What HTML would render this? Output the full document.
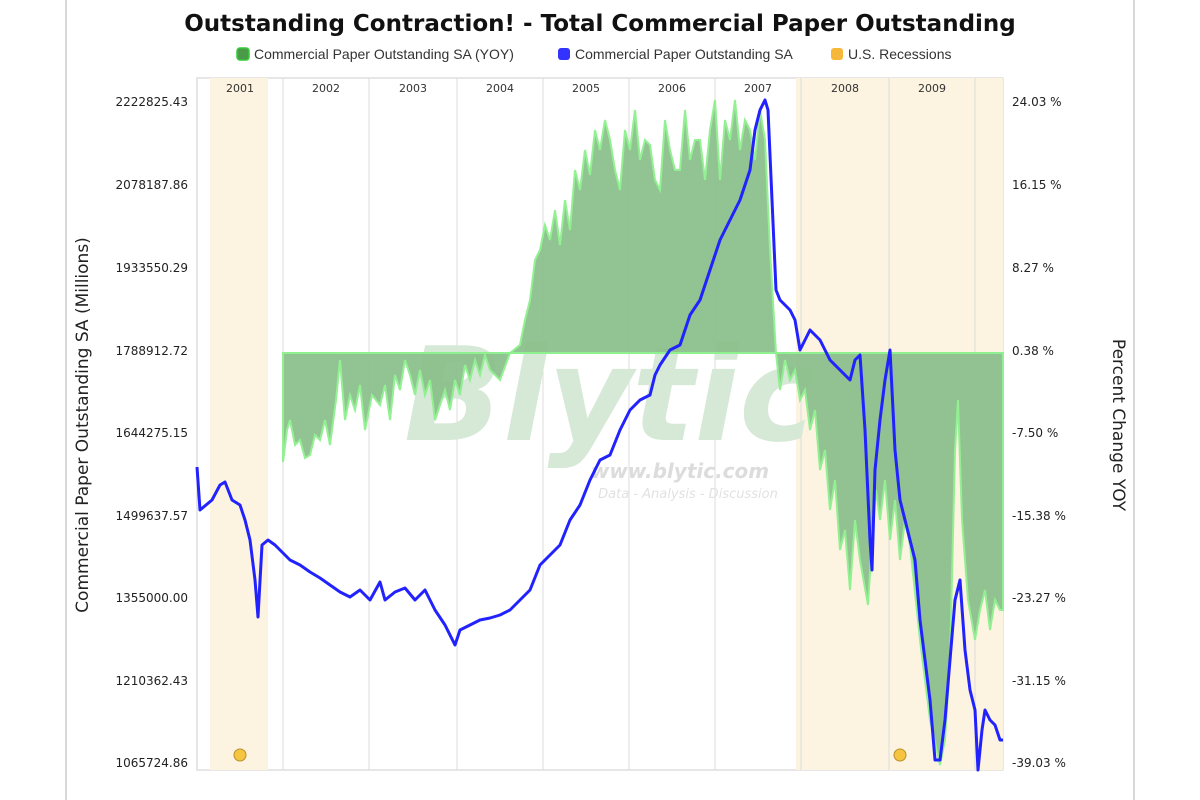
<!DOCTYPE html>
<html><head><meta charset="utf-8"><style>
html,body{margin:0;padding:0;background:#fff;width:1200px;height:800px;overflow:hidden}
svg{display:block}
text{font-family:"DejaVu Sans","Liberation Sans",sans-serif}
</style></head><body>
<svg width="1200" height="800" viewBox="0 0 1200 800">
<rect x="66" y="-2" width="1068" height="810" fill="#fff" stroke="#ccc" stroke-width="1.5"/>
<text x="600" y="31" text-anchor="middle" font-size="23" font-weight="bold" fill="#111">Outstanding Contraction! - Total Commercial Paper Outstanding</text>
<g font-size="13" fill="#333" style="font-family:'Liberation Sans',sans-serif">
<rect x="237" y="48" width="12" height="12" rx="3" fill="#4a9a4a" stroke="#3c3" stroke-width="1.5"/>
<text x="254" y="59" style="font-family:'Liberation Sans',sans-serif" font-size="14">Commercial Paper Outstanding SA (YOY)</text>
<rect x="558" y="48" width="12" height="12" rx="3" fill="#33f"/>
<text x="575" y="59" style="font-family:'Liberation Sans',sans-serif" font-size="14">Commercial Paper Outstanding SA</text>
<rect x="831" y="48" width="12" height="12" rx="3" fill="#f7b73a"/>
<text x="848" y="59" style="font-family:'Liberation Sans',sans-serif" font-size="14">U.S. Recessions</text>
</g>
<rect x="197" y="78" width="806" height="692" fill="#fff" stroke="#ccc"/>
<rect x="210" y="78" width="58" height="692" fill="#fdf3e1"/>
<rect x="796" y="78" width="207" height="692" fill="#fdf3e1"/>
<g stroke="#ddd" stroke-width="1">
<line x1="283" y1="78" x2="283" y2="770"/><line x1="369" y1="78" x2="369" y2="770"/>
<line x1="457" y1="78" x2="457" y2="770"/><line x1="543" y1="78" x2="543" y2="770"/>
<line x1="629" y1="78" x2="629" y2="770"/><line x1="715" y1="78" x2="715" y2="770"/>
<line x1="801" y1="78" x2="801" y2="770"/><line x1="889" y1="78" x2="889" y2="770"/>
<line x1="975" y1="78" x2="975" y2="770"/>
</g>
<g font-size="11" fill="#333" text-anchor="middle">
<text x="240" y="92">2001</text><text x="326" y="92">2002</text><text x="413" y="92">2003</text>
<text x="500" y="92">2004</text><text x="586" y="92">2005</text><text x="672" y="92">2006</text>
<text x="758" y="92">2007</text><text x="845" y="92">2008</text><text x="932" y="92">2009</text>
</g>
<text x="610" y="440" text-anchor="middle" font-size="130" font-weight="bold" fill="#d6e8d6" font-style="italic">Blytic</text>
<text x="680" y="478" text-anchor="middle" font-size="20" font-weight="bold" fill="#dcdcdc" font-style="italic">www.blytic.com</text>
<text x="688" y="498" text-anchor="middle" font-size="13" fill="#e2e2e2" font-style="italic">Data - Analysis - Discussion</text>
<path d="M283,353 L283,462 L287,430 L290,420 L295,445 L300,440 L305,458 L310,455 L315,435 L320,440 L325,420 L330,445 L336,400 L340,360 L345,420 L350,395 L355,410 L360,385 L365,430 L372,395 L380,405 L385,385 L390,420 L395,375 L400,390 L405,360 L410,375 L415,395 L420,370 L425,395 L430,380 L435,420 L440,405 L445,390 L450,410 L455,380 L460,395 L465,365 L470,380 L475,360 L480,375 L485,355 L490,370 L500,380 L510,353 L520,345 L525,320 L530,300 L535,260 L540,250 L545,225 L550,240 L555,210 L560,245 L565,200 L570,230 L575,170 L580,190 L585,150 L590,175 L595,130 L600,150 L605,120 L610,140 L615,170 L620,190 L625,130 L630,150 L635,110 L640,160 L645,140 L650,145 L655,180 L660,190 L665,120 L670,150 L675,170 L680,170 L685,110 L690,160 L695,140 L700,140 L705,180 L710,130 L715,100 L720,180 L725,120 L730,140 L735,100 L740,150 L745,120 L750,130 L755,160 L760,110 L765,140 L770,250 L776,353 L780,390 L785,360 L790,380 L795,370 L800,400 L805,390 L810,430 L815,410 L820,470 L825,450 L830,510 L835,480 L840,550 L845,530 L850,590 L855,520 L860,560 L868,605 L872,540 L876,490 L880,520 L885,480 L890,540 L895,500 L900,560 L905,520 L910,545 L920,640 L930,720 L940,765 L945,740 L950,660 L955,450 L958,400 L962,520 L968,600 L975,640 L980,610 L985,590 L990,630 L995,600 L1000,610 L1003,610 L1003,353 Z" fill="#8dc08d" stroke="#8ef08e" stroke-width="2" opacity="0.95"/>
<line x1="283" y1="353" x2="1003" y2="353" stroke="#8ef08e" stroke-width="2"/>
<polyline fill="none" stroke="#22f" stroke-width="3" stroke-linejoin="round" points="197,467 200,510 206,505 212,500 220,485 225,482 232,500 240,505 245,520 250,540 255,580 258,617 262,545 268,540 275,545 283,553 290,560 300,565 310,572 320,578 330,585 340,592 350,597 360,590 370,600 380,582 385,600 395,592 405,588 415,600 425,590 435,610 445,625 455,645 460,630 470,625 480,620 490,618 500,615 510,610 520,600 530,590 540,565 550,555 560,545 570,520 580,505 590,480 600,460 610,455 620,430 630,410 640,400 650,395 655,375 660,365 670,350 680,345 690,315 700,300 710,270 720,240 730,220 740,200 750,170 755,130 760,110 765,100 768,110 772,200 776,290 780,300 790,310 795,320 800,350 810,330 820,340 830,360 840,370 850,380 855,360 860,355 865,430 870,540 872,570 875,470 880,420 885,380 890,350 895,450 900,500 905,520 910,540 915,560 920,620 930,700 935,760 940,760 945,720 950,660 955,600 960,580 965,650 970,690 975,710 978,770 982,730 985,710 990,720 995,725 1000,740 1003,740"/>
<circle cx="240" cy="755" r="6" fill="#f5c542" stroke="#b8902a"/>
<circle cx="900" cy="755" r="6" fill="#f5c542" stroke="#b8902a"/>
<g font-size="12" fill="#222" text-anchor="end">
<text x="188" y="106">2222825.43</text><text x="188" y="189">2078187.86</text>
<text x="188" y="272">1933550.29</text><text x="188" y="355">1788912.72</text>
<text x="188" y="437">1644275.15</text><text x="188" y="520">1499637.57</text>
<text x="188" y="602">1355000.00</text><text x="188" y="685">1210362.43</text>
<text x="188" y="767">1065724.86</text>
</g>
<g font-size="12" fill="#222">
<text x="1012" y="106">24.03 %</text><text x="1012" y="189">16.15 %</text>
<text x="1012" y="272">8.27 %</text><text x="1012" y="355">0.38 %</text>
<text x="1012" y="437">-7.50 %</text><text x="1012" y="520">-15.38 %</text>
<text x="1012" y="602">-23.27 %</text><text x="1012" y="685">-31.15 %</text>
<text x="1012" y="767">-39.03 %</text>
</g>
<text transform="translate(88,425) rotate(-90)" text-anchor="middle" font-size="17" fill="#222">Commercial Paper Outstanding SA (Millions)</text>
<text transform="translate(1113,425) rotate(90)" text-anchor="middle" font-size="17" fill="#222">Percent Change YOY</text>
</svg>
</body></html>
